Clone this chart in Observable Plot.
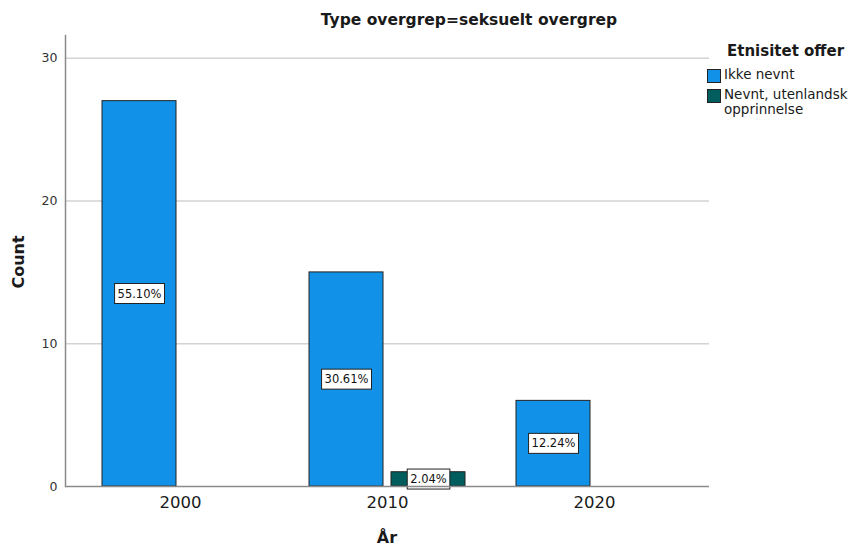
<!DOCTYPE html>
<html>
<head>
<meta charset="utf-8">
<script src="https://cdn.jsdelivr.net/npm/d3@7"></script>
<script src="https://cdn.jsdelivr.net/npm/@observablehq/plot@0.6"></script>
<style>
  body { margin: 0; background: #fff; font-family: "DejaVu Sans", sans-serif; color: #1a1a1a; }
  #wrap { position: relative; width: 858px; height: 547px; overflow: hidden; }
  #chart { position: absolute; left: 0; top: 0; }
  .ov { position: absolute; white-space: nowrap; }
  #title { left: 169px; width: 600px; top: 11px; text-align: center; font-weight: bold; font-size: 15.5px; line-height: 18px; }
  #ylab { left: 18px; top: 262px; font-weight: bold; font-size: 16px; transform: translate(-50%, -50%) rotate(-90deg); }
  #xlab { left: 387px; top: 537px; font-weight: bold; font-size: 16px; transform: translate(-50%, -50%); }
  #legend { left: 707px; top: 42px; }
  #legend .lt { font-weight: bold; font-size: 15px; line-height: 18px; margin-left: 20px; margin-bottom: 7px; }
  #legend .item { display: flex; align-items: flex-start; font-size: 13.5px; line-height: 15px; margin-bottom: 4px; }
  #legend .sw { width: 12px; height: 12px; border: 1px solid #222; margin-right: 3px; margin-top: 2px; flex: none; }
  #legend .tx { white-space: normal; width: 135px; }
</style>
</head>
<body>
<div id="wrap">
  <div id="chart"></div>
  <div id="title" class="ov"></div>
  <div id="ylab" class="ov"></div>
  <div id="xlab" class="ov"></div>
  <div id="legend" class="ov"></div>
</div>
<script>
// ---- data ----
const titleText = "Type overgrep=seksuelt overgrep";
const legendTitle = "Etnisitet offer";
const yLabel = "Count";
const xLabel = "År";
const years = ["2000", "2010", "2020"];
const groups = ["Ikke nevnt", "Nevnt, utenlandsk opprinnelse"];
const ikkeNevnt = [27, 15, 6];
const nevntUtenlandsk = [0, 1, 0];
const colors = ["#1192e8", "#005d5d"];
const yTicks = [0, 10, 20, 30];
const yMax = 31.6;

// ---- table ----
const total = d3.sum(ikkeNevnt) + d3.sum(nevntUtenlandsk);
const rows = [];
years.forEach((yr, i) => {
  rows.push({year: yr, group: groups[0], count: ikkeNevnt[i]});
  rows.push({year: yr, group: groups[1], count: nevntUtenlandsk[i]});
});
const data = rows.filter(d => d.count > 0).map(d => ({...d, pct: d3.format(".2f")(d.count / total * 100) + "%"}));
const g0 = data.filter(d => d.group === groups[0]);
const g1 = data.filter(d => d.group === groups[1]);
const shift = 41;

const plot = Plot.plot({
  width: 858,
  height: 547,
  marginLeft: 65,
  marginRight: 149,
  marginTop: 35,
  marginBottom: 61,
  style: {fontFamily: "DejaVu Sans, sans-serif", background: "transparent"},
  x: {type: "band", domain: years, paddingInner: 0.6434, paddingOuter: 0.3735},
  y: {domain: [0, yMax]},
  color: {domain: groups, range: colors},
  marks: [
    Plot.ruleY(yTicks.filter(t => t > 0), {stroke: "#d3d3d3", strokeWidth: 1.5}),
    Plot.barY(g0, {x: "year", y: "count", fill: "group", stroke: "#222", strokeWidth: 1, dx: -shift}),
    Plot.barY(g1, {x: "year", y: "count", fill: "group", stroke: "#222", strokeWidth: 1, dx: shift}),
    Plot.text(g0, {x: "year", y: d => d.count / 2, text: "pct", dx: -shift, fontSize: 11.5, fill: "#111"}),
    Plot.text(g1, {x: "year", y: d => d.count / 2, text: "pct", dx: shift, fontSize: 11.5, fill: "#111"}),
    Plot.ruleY([0], {stroke: "#8a8a8a", strokeWidth: 1.5}),
    Plot.frame({anchor: "left", stroke: "#8a8a8a", strokeWidth: 1.5}),
    Plot.axisX({tickSize: 0, tickPadding: 10, fontSize: 16.5, fill: "#1a1a1a", label: null}),
    Plot.axisY({ticks: yTicks, tickSize: 0, tickPadding: 8, fontSize: 12.5, fill: "#333", label: null})
  ]
});
document.getElementById("chart").appendChild(plot);

// white boxes behind percentage labels (only the text marks, not axis labels)
plot.querySelectorAll('g[aria-label="text"] text').forEach(t => {
  const bb = t.getBBox();
  const r = document.createElementNS("http://www.w3.org/2000/svg", "rect");
  const px = 3, py = 3;
  r.setAttribute("x", bb.x - px);
  r.setAttribute("y", bb.y - py);
  r.setAttribute("width", bb.width + 2 * px);
  r.setAttribute("height", bb.height + 2 * py);
  r.setAttribute("fill", "#fff");
  r.setAttribute("stroke", "#222");
  r.setAttribute("stroke-width", "1");
  const tr = t.getAttribute("transform");
  if (tr) r.setAttribute("transform", tr);
  t.parentNode.insertBefore(r, t);
});

document.getElementById("title").textContent = titleText;
document.getElementById("ylab").textContent = yLabel;
document.getElementById("xlab").textContent = xLabel;
const lg = document.getElementById("legend");
const lt = document.createElement("div"); lt.className = "lt"; lt.textContent = legendTitle; lg.appendChild(lt);
groups.forEach((g, i) => {
  const it = document.createElement("div"); it.className = "item";
  const sw = document.createElement("div"); sw.className = "sw"; sw.style.background = colors[i];
  const tx = document.createElement("div"); tx.className = "tx"; tx.textContent = g;
  it.appendChild(sw); it.appendChild(tx); lg.appendChild(it);
});
</script>
</body>
</html>
